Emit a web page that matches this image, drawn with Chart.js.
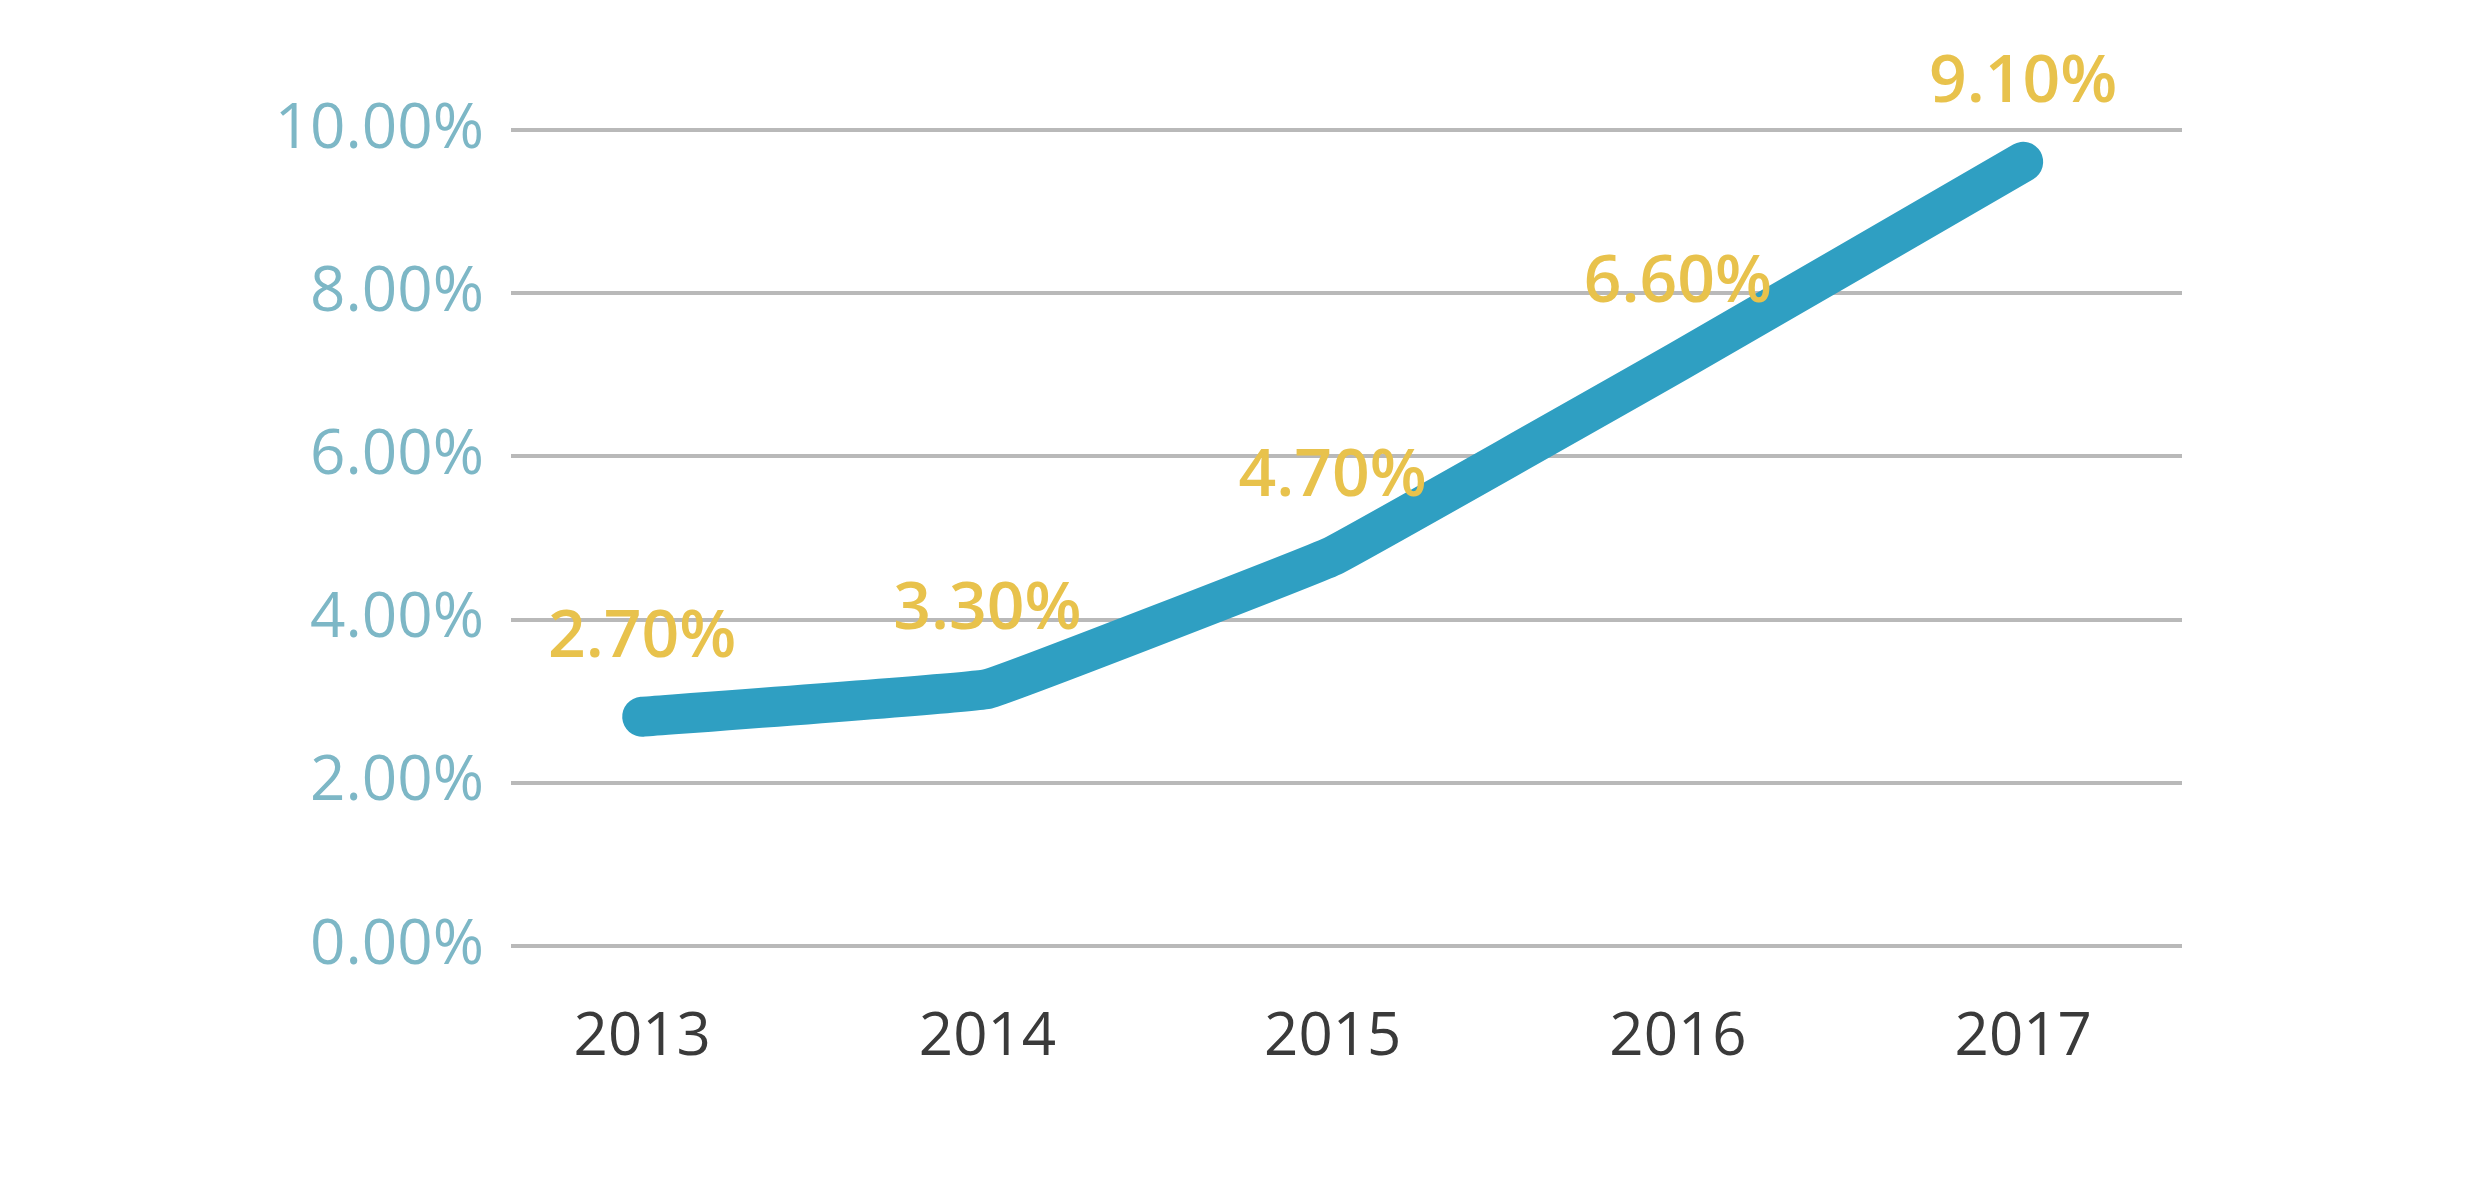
<!DOCTYPE html>
<html>
<head>
<meta charset="utf-8">
<script src="https://cdn.jsdelivr.net/npm/chart.js@4.4.1/dist/chart.umd.min.js"></script>
<style>
    html, body { margin: 0; padding: 0; background: #ffffff; }
    #wrap { width: 2488px; height: 1199px; }
</style>
</head>
<body>
<div id="wrap"><canvas id="growthChart"></canvas></div>
<script>
// años y valores
const years = [2013, 2014, 2015, 2016, 2017];
const lineValues = [2.81, 3.15, 4.78, 7.16, 9.61];
const pointLabels = ['2.70%', '3.30%', '4.70%', '6.60%', '9.10%'];
const yTicks = [0, 2, 4, 6, 8, 10];

const COLORS = {
    line: '#2f9fc2',
    label: '#e8c24c',
    yText: '#7db7c6',
    xText: '#3a3a3a',
    grid: '#b9b9b9'
};

// etiquetas amarillas encima de cada punto
const pointLabelPlugin = {
    id: 'pointLabels',
    afterDatasetsDraw(chart) {
        const ctx = chart.ctx;
        const meta = chart.getDatasetMeta(0);
        ctx.save();
        ctx.fillStyle = COLORS.label;
        ctx.font = '600 66px "Open Sans", sans-serif';
        ctx.textAlign = 'center';
        ctx.textBaseline = 'bottom';
        meta.data.forEach((pt, i) => {
            ctx.fillText(pointLabels[i], pt.x, pt.y - 46);
        });
        ctx.restore();
    }
};

const canvas = document.getElementById('growthChart');
new Chart(canvas, {
    type: 'line',
    data: {
        datasets: [{
            data: years.map((y, i) => ({ x: y, y: lineValues[i] })),
            borderColor: COLORS.line,
            borderWidth: 40,
            borderCapStyle: 'round',
            borderJoinStyle: 'round',
            tension: 0.05,
            pointRadius: 0,
            fill: false,
            clip: false
        }]
    },
    options: {
        responsive: true,
        maintainAspectRatio: false,
        animation: false,
        layout: { padding: { top: 130, right: 306, bottom: 0, left: 0 } },
        scales: {
            x: {
                type: 'linear',
                min: 2012.62,
                max: 2017.46,
                afterBuildTicks: (scale) => { scale.ticks = years.map(v => ({ value: v })); },
                afterFit: (scale) => { scale.height = 253; },
                grid: { display: false, drawTicks: false },
                border: { display: false },
                ticks: {
                    color: COLORS.xText,
                    padding: 56,
                    font: { family: '"Open Sans", sans-serif', size: 60 },
                    callback: (v) => String(v)
                }
            },
            y: {
                min: 0,
                max: 10,
                afterBuildTicks: (scale) => { scale.ticks = yTicks.map(v => ({ value: v })); },
                afterFit: (scale) => { scale.width = 511; },
                grid: { color: COLORS.grid, lineWidth: 4, drawTicks: false },
                border: { display: false },
                ticks: {
                    color: COLORS.yText,
                    padding: 27,
                    font: { family: '"Open Sans", sans-serif', size: 62, weight: '400' },
                    callback: (v) => v.toFixed(2) + '%'
                }
            }
        },
        plugins: {
            legend: { display: false },
            tooltip: { enabled: false }
        }
    },
    plugins: [pointLabelPlugin]
});
</script>
</body>
</html>
